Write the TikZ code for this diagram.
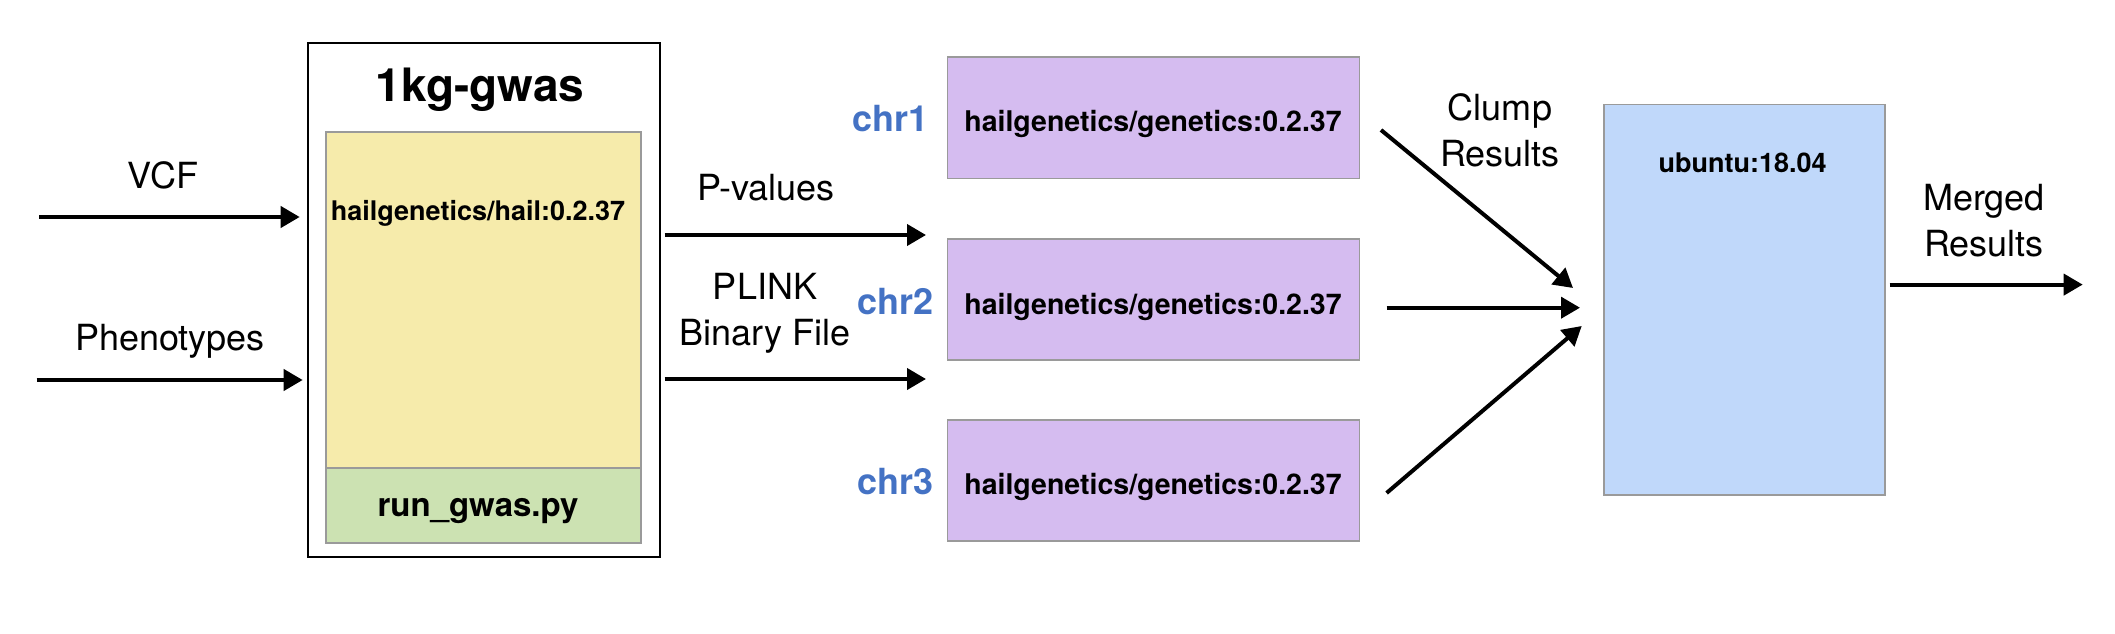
\documentclass[tikz,border=0pt]{standalone}
\usepackage{fontspec}
\setmainfont{TeX Gyre Heros}
\usetikzlibrary{arrows.meta}
\definecolor{yell}{HTML}{F6EBAB}
\definecolor{grn}{HTML}{CCE2B2}
\definecolor{purp}{HTML}{D5BCF0}
\definecolor{blu}{HTML}{C0D8FA}
\definecolor{chrblue}{HTML}{4472C4}
\definecolor{bord}{HTML}{9A9A9A}
\tikzset{
  box/.style={draw=bord, line width=1.6pt, inner sep=0pt, minimum width=#1},
  lbl/.style={font=\fontsize{36}{46}\selectfont, align=center, anchor=base, inner sep=0pt},
  btxt/.style={font=\bfseries\fontsize{#1}{#1}\selectfont, anchor=base, inner sep=0pt},
  chrlbl/.style={font=\bfseries\fontsize{36}{36}\selectfont, text=chrblue, anchor=base east, inner sep=0pt},
  arr/.style={line width=4pt, -{Triangle[length=19pt, width=21pt]}}
}
\begin{document}
\begin{tikzpicture}[x=1pt, y=-1pt]
\useasboundingbox (0,0) rectangle (2115,634);
% left container
\node[draw=black, line width=1.8pt, minimum width=352pt, minimum height=514pt, inner sep=0pt] (outer) at (483.6,300) {};
\node[box=315pt, fill=yell, minimum height=336pt] (yellow) at (483.5,300) {};
\node[box=315pt, fill=grn, minimum height=75pt] (green) at (483.5,505.5) {};
\node[btxt=46] (title) at (480,102) {1kg-gwas};
\node[btxt=27] (hail) at (478,220) {hailgenetics/hail:0.2.37};
\node[btxt=33] (run) at (478,516) {run\_gwas.py};
% inputs
\node[lbl] (vcf) at (163,188) {VCF};
\node[lbl] (pheno) at (170,350.6) {Phenotypes};
\coordinate (vcfin) at (39,217);
\coordinate (phin) at (36.6,380);
\draw[arr, shorten >=7pt] (vcfin) -- (outer.west |- vcfin);
\draw[arr, shorten >=4pt] (phin) -- (outer.west |- phin);
% outputs of gwas
\node[lbl] (pval) at (766,200.4) {P-values};
\node[lbl] (plink) at (765,345) {PLINK\\Binary File};
\coordinate (pvend) at (926,235);
\coordinate (plend) at (926,379);
\draw[arr, shorten <=4pt] (outer.east |- pvend) -- (pvend);
\draw[arr, shorten <=4pt] (outer.east |- plend) -- (plend);
% chromosome boxes
\node[box=412pt, fill=purp, minimum height=121.5pt] (g1) at (1153.6,117.8) {};
\node[box=412pt, fill=purp, minimum height=121.5pt] (g2) at (1153.6,299.5) {};
\node[box=412pt, fill=purp, minimum height=121.5pt] (g3) at (1153.6,480.5) {};
\node[btxt=28.5] (t1) at (1153,131.6) {hailgenetics/genetics:0.2.37};
\node[btxt=28.5] (t2) at (1153,314.6) {hailgenetics/genetics:0.2.37};
\node[btxt=28.5] (t3) at (1153,494.7) {hailgenetics/genetics:0.2.37};
\node[chrlbl] (c1) at (929,131.6) {chr1};
\node[chrlbl] (c2) at (934,314.6) {chr2};
\node[chrlbl] (c3) at (934,494.7) {chr3};
% merge box
\node[box=281pt, fill=blu, minimum height=390.5pt] (ubu) at (1744.4,299.8) {};
\node[btxt=27] (ubut) at (1742.7,172) {ubuntu:18.04};
\node[lbl] (clump) at (1500,166.8) {Clump\\Results};
\coordinate (a1s) at (1381,130);
\coordinate (a1e) at (1573,288);
\coordinate (a2s) at (1386.6,307.7);
\coordinate (a2e) at (1580,307.7);
\coordinate (a3s) at (1386.6,493);
\coordinate (a3e) at (1581.7,326);
\draw[arr] (a1s) -- (a1e);
\draw[arr] (a2s) -- (a2e);
\draw[arr] (a3s) -- (a3e);
\node[lbl] (merged) at (1984,256) {Merged\\Results};
\coordinate (mend) at (2082.7,284.6);
\draw[arr, shorten <=4pt] (ubu.east |- mend) -- (mend);
\end{tikzpicture}
\end{document}
